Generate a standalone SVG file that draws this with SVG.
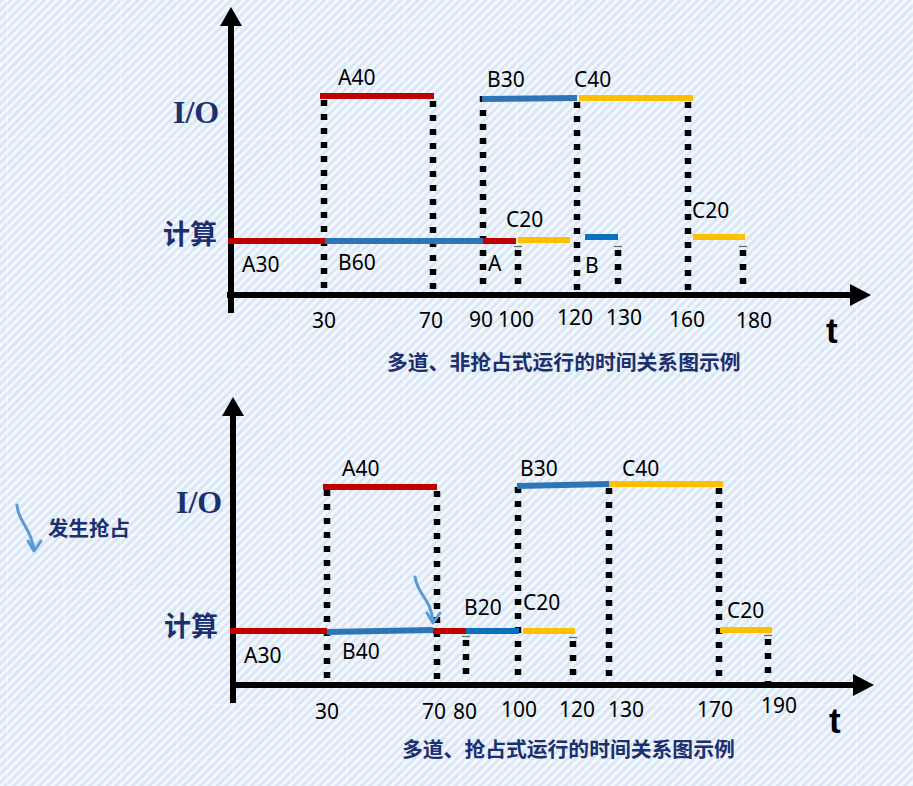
<svg xmlns="http://www.w3.org/2000/svg" width="913" height="786" viewBox="0 0 913 786">
<defs>
<pattern id="stripes" patternUnits="userSpaceOnUse" width="6" height="6" patternTransform="rotate(45)">
<rect width="6" height="6" fill="#f4f8fd"/>
<rect width="3" height="6" fill="#d9e6f5"/>
</pattern>
<pattern id="grid" patternUnits="userSpaceOnUse" width="56.6" height="56.6" x="7" y="25">
<path d="M0,0 H56.6 M0,0 V56.6" stroke="#ffffff" stroke-width="1.2" stroke-opacity="0.7" fill="none"/>
</pattern>
</defs>
<style>
.axis{stroke:#000;stroke-width:6;fill:none}
.bar{stroke-width:6;fill:none}
.r{stroke:#c00000}
.b{stroke:#2e75b6}
.b2{stroke:#0a70c0}
.y{stroke:#ffc000}
.dot{stroke:#000;stroke-width:6.5;stroke-dasharray:6 8;fill:none}
.tk{stroke:#666;stroke-width:1.2}
.lb{font-family:"Noto Sans","Open Sans","DejaVu Sans",sans-serif;font-size:21px;fill:#000}
.io{font-family:"Liberation Serif","DejaVu Serif",serif;font-weight:bold;font-size:32px;fill:#1c2f6e}
.cj{font-family:"Noto Sans CJK SC",sans-serif;font-weight:bold;fill:#1c2f6e}
.t{font-family:"Liberation Sans",Arial,sans-serif;font-weight:bold;font-size:35px;fill:#000}
.curve{stroke:#5b9bd5;stroke-width:3;fill:none;stroke-linecap:round;stroke-linejoin:round}
</style>
<rect width="913" height="786" fill="url(#stripes)"/>
<rect width="913" height="786" fill="url(#grid)"/>

<!-- Top chart -->
<g id="top-axes">
<line class="axis" x1="231" y1="22" x2="231" y2="313"/>
<polygon points="231,7 220,26 242,26" fill="#000"/>
<line class="axis" x1="227" y1="295" x2="852" y2="295"/>
<polygon points="871,295 850,284 850,306" fill="#000"/>
<text class="io" x="173" y="123">I/O</text>
<text class="cj" x="163" y="244" font-size="27">计算</text>
<text class="t" x="826" y="343">t</text>
</g>
<g id="top-dotted">
<line class="dot" x1="324" y1="100" x2="324" y2="295"/>
<line class="dot" x1="433" y1="101" x2="433" y2="293"/>
<line class="dot" x1="483" y1="96" x2="483" y2="295"/>
<line class="dot" x1="518" y1="250" x2="518" y2="293"/>
<line class="tk" x1="514" y1="246.5" x2="522" y2="246.5"/>
<line class="dot" x1="577" y1="102" x2="577" y2="293"/>
<line class="dot" x1="618" y1="250" x2="618" y2="293"/>
<line class="tk" x1="614" y1="246.5" x2="622" y2="246.5"/>
<line class="dot" x1="688" y1="102" x2="688" y2="293"/>
<line class="dot" x1="743" y1="250" x2="743" y2="293"/>
<line class="tk" x1="739" y1="246.5" x2="747" y2="246.5"/>
</g>
<g id="top-bars">
<line class="bar r" x1="320" y1="96" x2="434" y2="96"/>
<line class="bar b" x1="482" y1="99" x2="577" y2="98"/>
<line class="bar y" x1="579" y1="98" x2="693" y2="98"/>
<line class="bar r" x1="228" y1="241" x2="325" y2="241"/>
<line class="bar b" x1="325" y1="241" x2="483" y2="241"/>
<line class="bar r" x1="483" y1="241" x2="516" y2="241"/>
<line class="bar y" x1="518" y1="240" x2="570" y2="240"/>
<line class="bar b2" x1="585" y1="237" x2="618" y2="237"/>
<line class="bar y" x1="693" y1="237" x2="745" y2="237"/>
</g>
<g id="top-labels">
<text class="lb" x="338" y="85">A40</text>
<text class="lb" x="487" y="87">B30</text>
<text class="lb" x="574" y="87">C40</text>
<text class="lb" x="506" y="227">C20</text>
<text class="lb" x="692" y="218">C20</text>
<text class="lb" x="242" y="272">A30</text>
<text class="lb" x="338" y="270">B60</text>
<text class="lb" x="488" y="271">A</text>
<text class="lb" x="585" y="273">B</text>
<text class="lb" x="312" y="328">30</text>
<text class="lb" x="419" y="328">70</text>
<text class="lb" x="469" y="327">90</text>
<text class="lb" x="498" y="327">100</text>
<text class="lb" x="557" y="325">120</text>
<text class="lb" x="606" y="325">130</text>
<text class="lb" x="669" y="327">160</text>
<text class="lb" x="736" y="328">180</text>
<text class="cj" x="387" y="370" font-size="20.8">多道、非抢占式运行的时间关系图示例</text>
</g>

<!-- Legend -->
<g id="legend">
<path class="curve" d="M17,505 C18,522 31,527 34,550"/>
<path class="curve" d="M28,541 L34,551 L41,541"/>
<text class="cj" x="48" y="536" font-size="20.5">发生抢占</text>
</g>

<!-- Bottom chart -->
<g id="bottom-axes">
<line class="axis" x1="233" y1="412" x2="233" y2="703"/>
<polygon points="233,397 222,416 244,416" fill="#000"/>
<line class="axis" x1="230" y1="685" x2="855" y2="685"/>
<polygon points="874,685 853,674 853,696" fill="#000"/>
<text class="io" x="176" y="513">I/O</text>
<text class="cj" x="164" y="636" font-size="27">计算</text>
<text class="t" x="829" y="733">t</text>
</g>
<g id="bottom-dotted">
<line class="dot" x1="327" y1="490" x2="327" y2="685"/>
<line class="dot" x1="437" y1="491" x2="437" y2="683"/>
<line class="dot" x1="466" y1="640" x2="466" y2="683"/>
<line class="tk" x1="462" y1="636.5" x2="470" y2="636.5"/>
<line class="dot" x1="518" y1="487" x2="518" y2="685"/>
<line class="dot" x1="573" y1="641" x2="573" y2="683"/>
<line class="tk" x1="569" y1="637.5" x2="577" y2="637.5"/>
<line class="dot" x1="609" y1="488" x2="609" y2="683"/>
<line class="dot" x1="719" y1="488" x2="719" y2="683"/>
<line class="dot" x1="768" y1="639" x2="768" y2="683"/>
<line class="tk" x1="764" y1="635.5" x2="772" y2="635.5"/>
</g>
<g id="bottom-bars">
<line class="bar r" x1="323" y1="487" x2="437" y2="487"/>
<line class="bar b" x1="517" y1="486" x2="609" y2="484"/>
<line class="bar y" x1="609" y1="484" x2="723" y2="484"/>
<line class="bar r" x1="230" y1="631" x2="327" y2="631"/>
<line class="bar b" x1="327" y1="632" x2="433" y2="630"/>
<line class="bar r" x1="433" y1="631" x2="466" y2="631"/>
<line class="bar b2" x1="466" y1="631" x2="519" y2="631"/>
<line class="bar y" x1="523" y1="631" x2="575" y2="631"/>
<line class="bar y" x1="720" y1="630" x2="772" y2="630"/>
</g>
<g id="bottom-labels">
<text class="lb" x="342" y="476">A40</text>
<text class="lb" x="520" y="476">B30</text>
<text class="lb" x="622" y="476">C40</text>
<text class="lb" x="464" y="615">B20</text>
<text class="lb" x="523" y="610">C20</text>
<text class="lb" x="727" y="618">C20</text>
<text class="lb" x="244" y="663">A30</text>
<text class="lb" x="342" y="659">B40</text>
<text class="lb" x="315" y="719">30</text>
<text class="lb" x="422" y="719">70</text>
<text class="lb" x="453" y="719">80</text>
<text class="lb" x="501" y="717">100</text>
<text class="lb" x="559" y="717">120</text>
<text class="lb" x="608" y="717">130</text>
<text class="lb" x="697" y="717">170</text>
<text class="lb" x="761" y="713">190</text>
<text class="cj" x="402" y="757" font-size="20.8">多道、抢占式运行的时间关系图示例</text>
</g>
<g id="connectors">
<path class="curve" d="M415,577 C418,596 431,598 433,622" stroke-width="2.5"/>
<path class="curve" d="M427,613 L433,623 L440,613" stroke-width="2.5"/>
</g>
</svg>
